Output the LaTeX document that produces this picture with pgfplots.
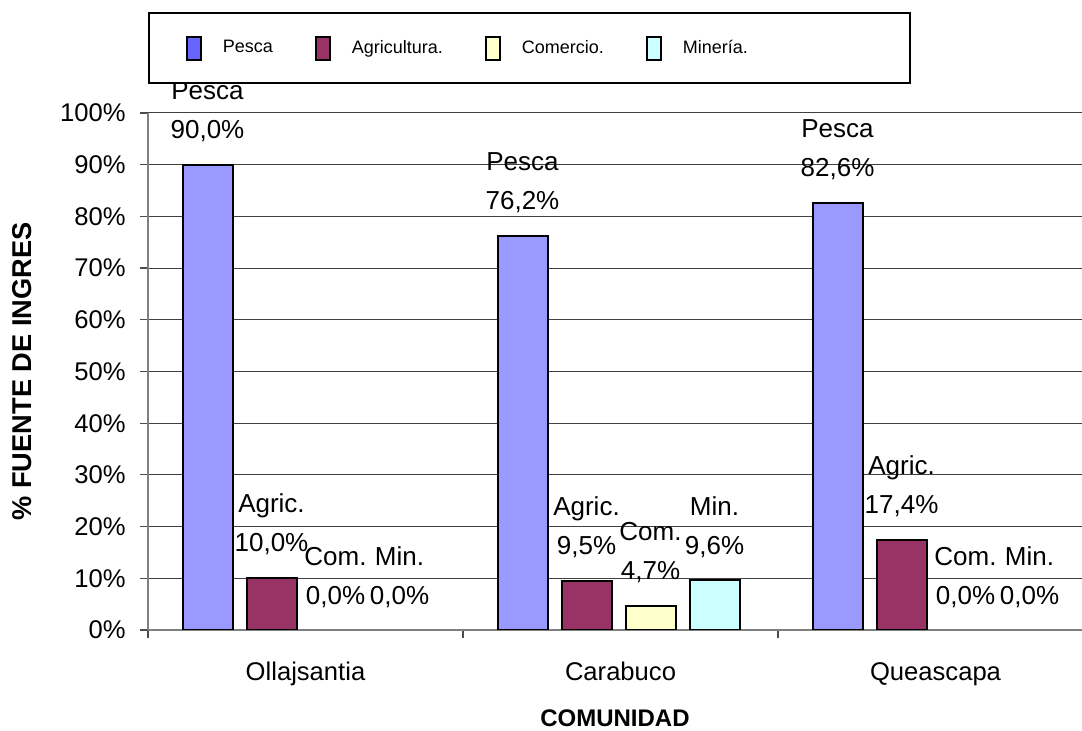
\documentclass[border=0pt]{standalone}
\usepackage{fontspec}
\setmainfont{Liberation Sans}
\usepackage{pgfplots}
\pgfplotsset{compat=1.18}

\definecolor{pesca}{HTML}{9999FF}
\definecolor{pescaleg}{HTML}{6666FF}
\definecolor{agri}{HTML}{993366}
\definecolor{come}{HTML}{FFFFCC}
\definecolor{mine}{HTML}{CCFFFF}

% percentage with one decimal and a decimal comma
\newcommand{\pct}{\pgfmathprintnumber[fixed,fixed zerofill,precision=1,use comma]{\pgfplotspointmeta}\%}

% legend swatches: small upright rectangles
\pgfplotsset{
  swatch/.style={legend image code/.code={\draw[##1] (0pt,-5.75pt) rectangle (7pt,5.75pt);}},
  pesca swatch/.style={legend image code/.code={\draw[##1, fill=pescaleg] (0pt,-5.75pt) rectangle (7pt,5.75pt);}},
  bar outline/.style={draw=black, line width=1pt},
}

\begin{document}
\begin{tikzpicture}
\begin{axis}[
  name=ax, at={(0,0)}, anchor=south west,
  scale only axis, width=467pt, height=258.5pt,
  xmin=-0.5, xmax=2.465, ymin=0, ymax=100,
  ybar, bar width=25pt,
  axis x line*=bottom, axis y line*=left,
  axis line style={-, draw=black!50, line width=0.9pt},
  xtick={0,1,2}, xticklabels={Ollajsantia,Carabuco,Queascapa},
  minor xtick={-0.5,0.5,1.5},
  major x tick style={draw=none},
  ytick={0,10,...,100},
  tick align=outside, major tick length=4pt, minor tick length=4pt,
  every tick/.style={black!70, line width=0.6pt},
  yticklabel={\pgfmathprintnumber{\tick}\%},
  /pgf/number format/assume math mode=true,
  ymajorgrids, grid style={black!75, line width=0.5pt},
  ticklabel style={font=\fontsize{12.8}{15}\selectfont},
  xticklabel style={anchor=base, yshift=-21.5pt},
  yticklabel style={anchor=east, inner sep=0pt, xshift=-7pt},
  xlabel={\textbf{COMUNIDAD}},
  xlabel style={at={(axis description cs:0.5,0)}, anchor=center, yshift=-44pt,
                font=\fontsize{12}{14}\selectfont},
  ylabel={\textbf{\% FUENTE DE INGRES}},
  ylabel style={at={(axis description cs:-0.1350,0.5)}, anchor=center,
                font=\fontsize{13.6}{16}\selectfont},
  every node near coord/.append style={font=\fontsize{13}{19.5}\selectfont,
     align=center, inner sep=0pt, anchor=south, yshift=11pt, text=black},
  legend columns=4,
  swatch,
  legend style={at={(rel axis cs:0,1)}, anchor=south west, yshift=14.5pt,
     draw=black, line width=0.8pt, font=\fontsize{9}{11}\selectfont,
     inner xsep=18.5pt, inner ysep=11.25pt,
     /tikz/every odd column/.append style={column sep=8.5pt},
     /tikz/every even column/.append style={column sep=19pt}},
  legend cell align=left,
]
% Pesca
\addplot[fill=pesca, bar outline, bar shift=-49pt,
  nodes near coords={Pesca\\\pct}, pesca swatch]
  coordinates {(0,90.0) (1,76.2) (2,82.6)};
\addlegendentry{Pesca}
% Agricultura
\addplot[fill=agri, bar outline, bar shift=-17pt,
  nodes near coords={Agric.\\\pct}]
  coordinates {(0,10.0) (1,9.5) (2,17.4)};
\addlegendentry{Agricultura.}
% Comercio
\addplot[fill=come, bar outline, bar shift=15pt,
  nodes near coords={Com.\\\pct}]
  coordinates {(1,4.7)};
\addlegendentry{Comercio.}
\addplot[forget plot, draw=none, fill=none, bar shift=15pt,
  nodes near coords={Com.\\\pct}]
  coordinates {(0,0.0) (2,0.0)};
% Minería
\addplot[fill=mine, bar outline, bar shift=47pt,
  nodes near coords={Min.\\\pct}]
  coordinates {(1,9.6)};
\addlegendentry{\makebox[93pt][l]{Minería.}}
\addplot[forget plot, draw=none, fill=none, bar shift=47pt,
  nodes near coords={Min.\\\pct}]
  coordinates {(0,0.0) (2,0.0)};
\end{axis}
\pgfresetboundingbox
\path[use as bounding box] (ax.south west) ++(-74pt,-50.5pt) rectangle ++(541pt,365.5pt);
\end{tikzpicture}
\end{document}
